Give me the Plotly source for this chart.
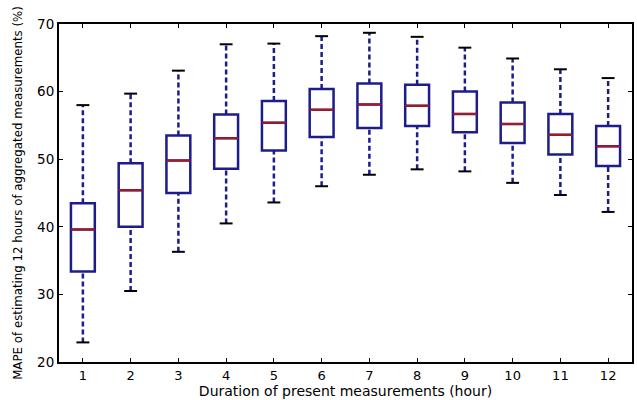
import plotly.graph_objects as go

hours = [1, 2, 3, 4, 5, 6, 7, 8, 9, 10, 11, 12]
whisker_low = [22.9, 30.5, 36.3, 40.5, 43.6, 46.0, 47.7, 48.5, 48.2, 46.5, 44.7, 42.2]
q1 = [33.4, 40.0, 45.0, 48.6, 51.3, 53.3, 54.6, 54.9, 54.0, 52.4, 50.7, 49.0]
median = [39.6, 45.4, 49.8, 53.1, 55.4, 57.3, 58.1, 57.9, 56.7, 55.2, 53.6, 51.9]
q3 = [43.5, 49.4, 53.5, 56.6, 58.6, 60.4, 61.2, 61.0, 60.0, 58.4, 56.7, 54.9]
whisker_high = [58.0, 59.7, 63.1, 67.0, 67.1, 68.2, 68.7, 68.1, 66.5, 64.9, 63.3, 62.0]

box_w = 0.5
cap_w = 0.27
navy = "#1c1c8c"
red = "#b01818"

fig = go.Figure()
fig.add_trace(go.Box(
    x=hours, q1=q1, median=median, q3=q3,
    lowerfence=q1, upperfence=q3,
    width=box_w, whiskerwidth=0,
    fillcolor="white", line=dict(color=navy, width=2.5),
    boxpoints=False, hoverinfo="skip", showlegend=False,
))

# whiskers (dashed)
wx, wy = [], []
for h, lo, a, b, hi in zip(hours, whisker_low, q1, q3, whisker_high):
    wx += [h, h, None, h, h, None]
    wy += [lo, a, None, b, hi, None]
fig.add_trace(go.Scatter(x=wx, y=wy, mode="lines",
                         line=dict(color=navy, width=2.5, dash="5px,3px"),
                         showlegend=False, hoverinfo="skip"))

# caps
cx, cy = [], []
for h, lo, hi in zip(hours, whisker_low, whisker_high):
    cx += [h - cap_w / 2, h + cap_w / 2, None, h - cap_w / 2, h + cap_w / 2, None]
    cy += [lo, lo, None, hi, hi, None]
fig.add_trace(go.Scatter(x=cx, y=cy, mode="lines",
                         line=dict(color="black", width=2),
                         showlegend=False, hoverinfo="skip"))

# medians
mx, my = [], []
for h, m in zip(hours, median):
    mx += [h - box_w / 2, h + box_w / 2, None]
    my += [m, m, None]
fig.add_trace(go.Scatter(x=mx, y=my, mode="lines",
                         line=dict(color=red, width=2),
                         showlegend=False, hoverinfo="skip"))

font_family = "DejaVu Sans"
fig.update_layout(
    width=637, height=400,
    margin=dict(l=59, r=3, t=24, b=38),
    paper_bgcolor="white", plot_bgcolor="white",
    font=dict(family=font_family, color="black"),
    xaxis=dict(
        range=[0.5, 12.5], tickmode="array", tickvals=hours,
        ticktext=[str(h) for h in hours],
        ticks="inside", ticklen=4, tickwidth=1, tickcolor="black",
        showline=True, linecolor="black", linewidth=2, mirror="allticks",
        showgrid=False, zeroline=False,
        tickfont=dict(size=13, family=font_family),
        title=dict(text="Duration of present measurements (hour)",
                   font=dict(size=14, family=font_family), standoff=3),
    ),
    yaxis=dict(
        range=[20, 70], tickmode="array", tickvals=[20, 30, 40, 50, 60, 70],
        ticks="inside", ticklen=4, tickwidth=1, tickcolor="black",
        showline=True, linecolor="black", linewidth=2, mirror="allticks",
        showgrid=False, zeroline=False,
        tickfont=dict(size=13.5, family=font_family),
        title=dict(text="MAPE of estimating 12 hours of aggregated measurements (%)",
                   font=dict(size=11.8, family=font_family), standoff=12),
    ),
)

fig.write_html("out.html")
